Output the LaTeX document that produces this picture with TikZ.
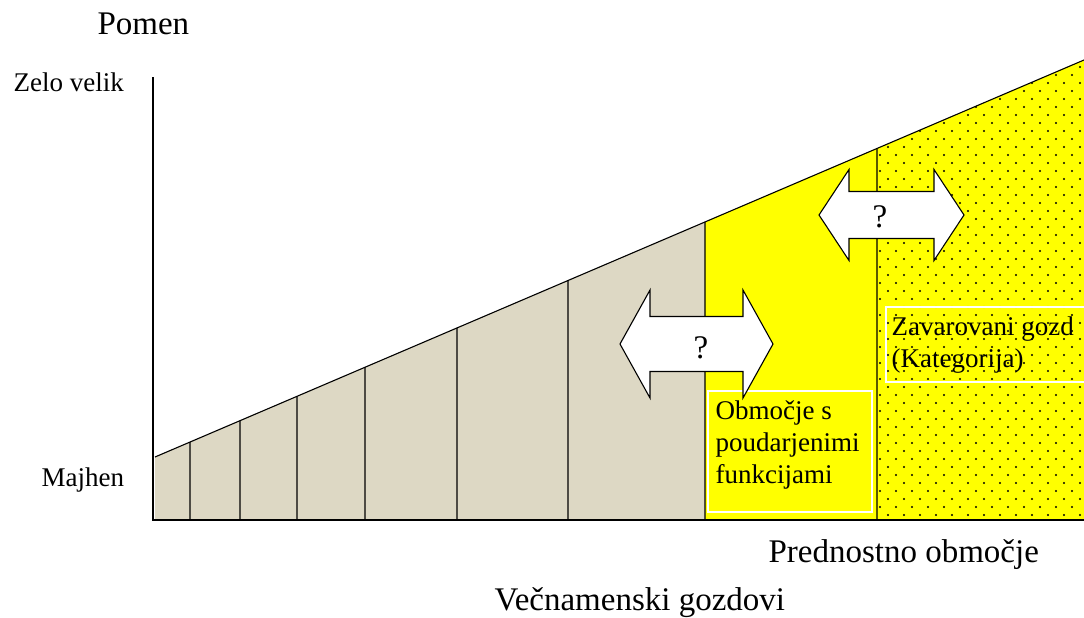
\documentclass[tikz,border=0pt]{standalone}
\usepackage{fontspec}
\setmainfont{Liberation Serif}
\usetikzlibrary{calc}
\definecolor{sand}{RGB}{221,216,196}
\definecolor{hiyellow}{RGB}{255,255,0}

\begin{document}
\begin{tikzpicture}[x=1pt,y=-1pt,line width=1.1pt,
  big/.style={font=\fontsize{33}{38}\selectfont,inner sep=0pt},
  small/.style={font=\fontsize{27}{32}\selectfont,inner sep=0pt},
  zonebox/.style={draw=white,line width=1.5pt}]
  \useasboundingbox (0,0) rectangle (1084,618);
  % Sloped top line, ends
  \coordinate (t0) at (155,457);
  \coordinate (t1) at (1084,60);
  \coordinate (ya) at ($(t0)!{550/929}!(t1)$);
  \coordinate (yb) at ($(t0)!{722/929}!(t1)$);

  % Multipurpose part
  \fill[sand] (155,520) -- (t0) -- (ya) -- (705,520) -- cycle;
  % Priority part
  \fill[hiyellow] (705,520) -- (ya) -- (t1) -- (1084,520) -- cycle;
  % Dotted protected part
  \begin{scope}
    \clip (877,520) -- (yb) -- (t1) -- (1084,520) -- cycle;
    \foreach \j in {7,...,64}
      \foreach \i in {54,...,68}
        \fill ({16*\i+8*mod(\j+1,2)},{3+8*\j}) circle (1.2);
  \end{scope}

  % Axes and dividers
  \draw (153,77) -- (153,520) -- (1084,520);
  \draw (t0) -- (t1);
  \foreach \x in {190,240,297,365,457,568,705,877}
    \draw ($(t0)!{(\x-155)/929}!(t1)$) -- (\x,520);

  % Text frames
  \draw[zonebox] (708,391) rectangle (872,512);
  \draw[zonebox] (886,307) rectangle (1090,382);
  \node[small,anchor=base west,align=left] (obm) at (715,483) {Območje s\\poudarjenimi\\funkcijami};
  \node[small,anchor=base west,align=left] (zav) at (891,367) {Zavarovani gozd\\(Kategorija)};

  % Double arrows
  \foreach \xa/\xb/\yc/\hh/\sh/\qx/\qy/\nm in {620/773/344/54/27.5/701/348/qa, 819/964/215/45.5/23.5/880/217/qb}{
    \draw[fill=white] (\xa,\yc) -- (\xa+30,\yc-\hh) -- (\xa+30,\yc-\sh) -- (\xb-30,\yc-\sh)
      -- (\xb-30,\yc-\hh) -- (\xb,\yc) -- (\xb-30,\yc+\hh) -- (\xb-30,\yc+\sh)
      -- (\xa+30,\yc+\sh) -- (\xa+30,\yc+\hh) -- cycle;
    \node[big] (\nm) at (\qx,\qy) {?};
  }

  % Labels
  \node[big,anchor=base west] (pomen) at (97,35) {Pomen};
  \node[small,anchor=base west] (zelo) at (13,92) {Zelo velik};
  \node[small,anchor=base west] (majhen) at (41,486) {Majhen};
  \node[big,anchor=base west] (predn) at (768,562) {Prednostno območje};
  \node[big,anchor=base west] (vecn) at (494,610) {Večnamenski gozdovi};
\end{tikzpicture}
\end{document}
